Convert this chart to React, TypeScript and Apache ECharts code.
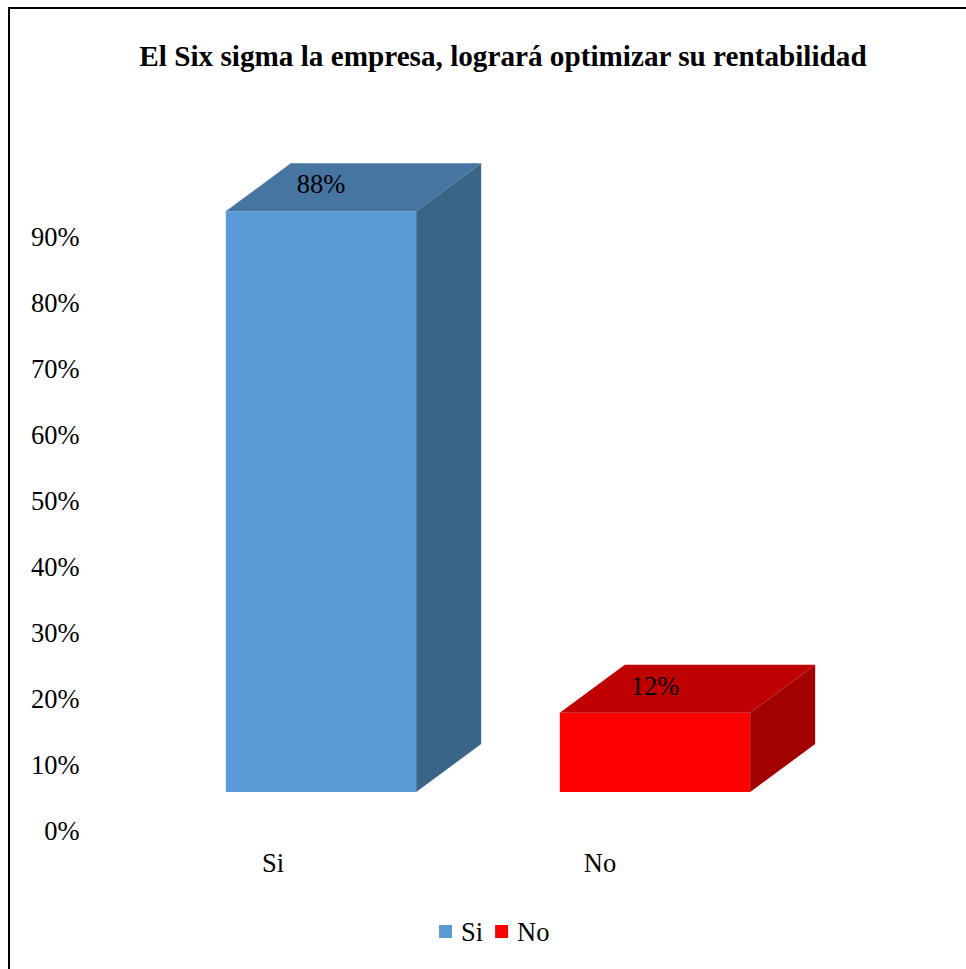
import React, { useEffect, useRef } from "react";
import * as echarts from "echarts";

// Survey answers and their shares
const categories = ["Si", "No"];
const shares = [0.88, 0.12];

// Value axis ticks (fractions of 1)
const axisMin = 0;
const axisMax = 0.9;
const axisStep = 0.1;

// Face colours of each 3D box: front, top, right side
const frontColors = ["#5B9BD5", "#FF0000"];
const topColors = ["#4675A1", "#C00000"];
const sideColors = ["#3A6488", "#A30000"];

const titleText = "El Six sigma la empresa, logrará optimizar su rentabilidad";

const FONT = "'Times New Roman', 'Liberation Serif', serif";
const LABEL_SIZE = 26.5;
// oblique projection of the box depth
const DEPTH_X = 65;
const DEPTH_Y = -48;

const pct = (v: number) => `${Math.round(v * 100)}%`;

function boxRenderer(colorIndex: number) {
  return (params: any, api: any) => {
    const idx = api.value(0);
    const v = api.value(1);
    const base = api.coord([idx, 0]);
    const top = api.coord([idx, v]);
    const band = api.size([1, 0])[0];
    const w = band * 0.57;
    const x0 = base[0] - w / 2;
    const x1 = x0 + w;
    const yT = top[1];
    const yB = base[1];
    return {
      type: "group",
      children: [
        {
          type: "rect",
          shape: { x: x0, y: yT, width: w, height: yB - yT },
          style: { fill: frontColors[colorIndex] },
        },
        {
          type: "polygon",
          shape: {
            points: [
              [x0, yT],
              [x0 + DEPTH_X, yT + DEPTH_Y],
              [x1 + DEPTH_X, yT + DEPTH_Y],
              [x1, yT],
            ],
          },
          style: { fill: topColors[colorIndex] },
        },
        {
          type: "polygon",
          shape: {
            points: [
              [x1, yT],
              [x1 + DEPTH_X, yT + DEPTH_Y],
              [x1 + DEPTH_X, yB + DEPTH_Y],
              [x1, yB],
            ],
          },
          style: { fill: sideColors[colorIndex] },
        },
        {
          type: "text",
          x: base[0],
          y: yT - 27,
          style: {
            text: pct(v),
            fill: "#000",
            font: `${LABEL_SIZE}px ${FONT}`,
            align: "center",
            verticalAlign: "middle",
          },
        },
      ],
    };
  };
}

export default function App() {
  const ref = useRef<HTMLDivElement>(null);

  useEffect(() => {
    if (!ref.current) return;
    const chart = echarts.init(ref.current, null, { renderer: "svg" });
    const option: any = {
      animation: false,
      backgroundColor: "#fff",
      textStyle: { fontFamily: FONT, color: "#000" },
      graphic: [
        {
          type: "rect",
          shape: { x: 9, y: 8, width: 1200, height: 1200 },
          style: { fill: "none", stroke: "#000", lineWidth: 2 },
          silent: true,
        },
        {
          type: "text",
          x: 503,
          y: 56,
          style: {
            text: titleText,
            font: `bold 29.2px ${FONT}`,
            fill: "#000",
            align: "center",
            verticalAlign: "middle",
          },
        },
      ],
      legend: {
        data: categories,
        left: 439,
        top: 918,
        padding: 0,
        icon: "rect",
        itemWidth: 13,
        itemHeight: 13,
        itemGap: 12,
        textStyle: { fontFamily: FONT, fontSize: LABEL_SIZE, color: "#000", padding: [0, 0, 0, 4] },
      },
      grid: [
        // axis labels
        { left: 109.5, width: 654, top: 237, height: 594 },
        // 3D boxes
        { left: 154, width: 668, top: 198, height: 594 },
      ],
      xAxis: [
        {
          type: "category",
          gridIndex: 0,
          data: categories,
          axisLine: { show: false },
          axisTick: { show: false },
          axisLabel: { fontFamily: FONT, fontSize: LABEL_SIZE, color: "#000", margin: 18 },
        },
        { type: "category", gridIndex: 1, data: categories, show: false },
      ],
      yAxis: [
        {
          type: "value",
          gridIndex: 0,
          min: axisMin,
          max: axisMax,
          interval: axisStep,
          axisLine: { show: false },
          axisTick: { show: false },
          splitLine: { show: false },
          axisLabel: {
            fontFamily: FONT,
            fontSize: LABEL_SIZE,
            color: "#000",
            margin: 30,
            formatter: (v: number) => pct(v),
          },
        },
        { type: "value", gridIndex: 1, min: axisMin, max: axisMax, show: false },
      ],
      series: categories.map((name, i) => ({
        type: "custom",
        name,
        xAxisIndex: 1,
        yAxisIndex: 1,
        itemStyle: { color: frontColors[i] },
        encode: { x: 0, y: 1 },
        data: [[i, shares[i]]],
        renderItem: boxRenderer(i),
      })),
    };
    chart.setOption(option);
    return () => chart.dispose();
  }, []);

  return (
    <div
      ref={ref}
      style={{ position: "absolute", left: 0, top: 0, width: 966, height: 969 }}
    />
  );
}
